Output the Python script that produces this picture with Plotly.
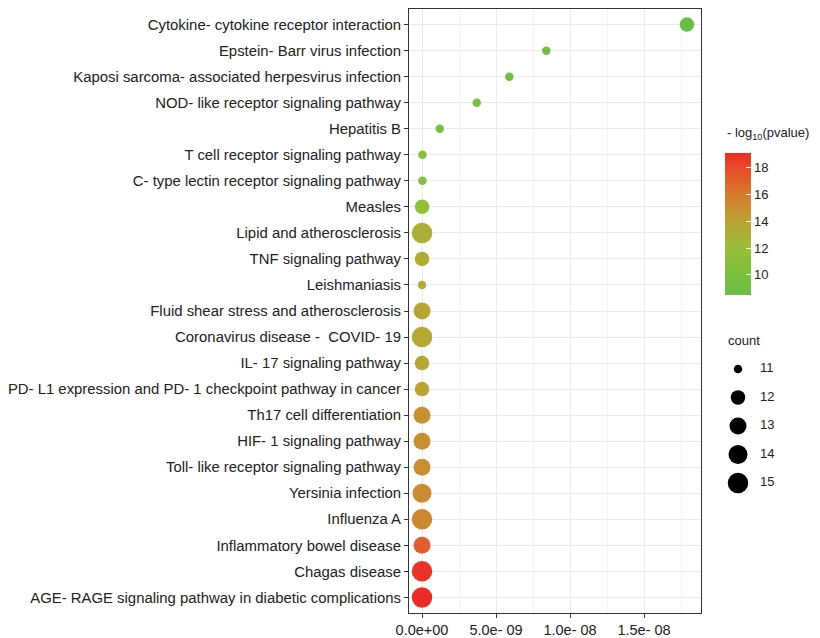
import plotly.graph_objects as go

# ---------------- data (top to bottom) ----------------
pathways = [
    "Cytokine- cytokine receptor interaction",
    "Epstein- Barr virus infection",
    "Kaposi sarcoma- associated herpesvirus infection",
    "NOD- like receptor signaling pathway",
    "Hepatitis B",
    "T cell receptor signaling pathway",
    "C- type lectin receptor signaling pathway",
    "Measles",
    "Lipid and atherosclerosis",
    "TNF signaling pathway",
    "Leishmaniasis",
    "Fluid shear stress and atherosclerosis",
    "Coronavirus disease -  COVID- 19",
    "IL- 17 signaling pathway",
    "PD- L1 expression and PD- 1 checkpoint pathway in cancer",
    "Th17 cell differentiation",
    "HIF- 1 signaling pathway",
    "Toll- like receptor signaling pathway",
    "Yersinia infection",
    "Influenza A",
    "Inflammatory bowel disease",
    "Chagas disease",
    "AGE- RAGE signaling pathway in diabetic complications",
]
x_values = [1.79e-8, 8.4e-9, 5.9e-9, 3.7e-9, 1.2e-9, 3.0e-11, 2.8e-11, 3.5e-12,
            1.2e-13, 9.0e-14, 8.0e-14, 6.0e-14, 7.0e-14, 5.5e-14, 4.5e-14,
            3.0e-15, 2.8e-15, 2.6e-15, 2.2e-15, 1.8e-15, 2.0e-17, 4.0e-19, 2.5e-19]
neg_log10_p = [8.5, 8.9, 9.1, 9.3, 9.9, 10.8, 10.8, 11.7, 13.1, 13.3, 13.5, 13.7,
               13.6, 13.7, 13.8, 14.9, 15.0, 15.0, 15.1, 15.3, 17.2, 18.9, 19.1]
counts = [12, 11, 11, 11, 11, 11, 11, 12, 15, 12, 11, 13, 15, 12, 12, 13, 13, 13,
          14, 15, 13, 15, 15]

x_tickvals = [0, 5e-9, 1e-8, 1.5e-8]
x_ticktext = ["0.0e+00", "5.0e- 09", "1.0e- 08", "1.5e- 08"]
color_ticks = [10, 12, 14, 16, 18]
legend_counts = [11, 12, 13, 14, 15]

CMIN, CMAX = 8.5, 19.1
CNT_MIN, CNT_MAX = 11, 15


def dot_size(c):
    # area-style size scale (like ggplot scale_size)
    return 8.5 + 12.0 * ((c - CNT_MIN) / (CNT_MAX - CNT_MIN)) ** 0.5


colorscale = [
    [0.00, "rgb(106,190,70)"],
    [0.15, "rgb(122,192,62)"],
    [0.33, "rgb(152,190,56)"],
    [0.52, "rgb(188,162,50)"],
    [0.71, "rgb(214,122,46)"],
    [0.90, "rgb(232,74,40)"],
    [1.00, "rgb(234,44,40)"],
]

FONT = "Arial, Liberation Sans, sans-serif"
# page body has an 8px margin, so the figure is 8px smaller than the window
W, H = 812, 630
ML, MR, MT = 401, 0, 1
PANEL_BOTTOM = 605
MB = H - PANEL_BOTTOM
PW = W - ML - MR
PH = H - MT - MB
panel_right = 693


def py(pix):  # figure pixel y -> paper fraction
    return (MT + PH - pix) / PH


def px(pix):  # figure pixel x -> paper fraction
    return (pix - ML) / PW


fig = go.Figure()

fig.add_trace(go.Scatter(
    x=x_values, y=pathways, mode="markers",
    marker=dict(
        size=[dot_size(c) for c in counts],
        color=neg_log10_p, cmin=CMIN, cmax=CMAX, colorscale=colorscale,
        line=dict(width=0), opacity=1,
        showscale=True,
        colorbar=dict(
            x=px(717), xanchor="left", xpad=0,
            y=py(216), yanchor="middle", ypad=0,
            len=142, lenmode="pixels", thickness=26, thicknessmode="pixels",
            outlinewidth=0, tickvals=color_ticks, ticks="inside",
            tickcolor="white", ticklen=5, tickwidth=1,
            tickfont=dict(family=FONT, size=13, color="#222"),
            title=dict(text=""),
        ),
    ),
    showlegend=False, hoverinfo="x+y",
))

# size legend (count)
X2_DOM = [0.75, 1.0]
x2_start = ML + X2_DOM[0] * PW
x2_w = (X2_DOM[1] - X2_DOM[0]) * PW
fig.add_trace(go.Scatter(
    x=[(730 - x2_start) / x2_w] * len(legend_counts), y=legend_counts, mode="markers",
    marker=dict(size=[dot_size(c) for c in legend_counts], color="black",
                line=dict(width=0), opacity=1),
    xaxis="x2", yaxis="y2", showlegend=False, hoverinfo="skip",
))
fig.add_trace(go.Scatter(
    x=[(752 - x2_start) / x2_w] * len(legend_counts), y=legend_counts, mode="text",
    text=[str(c) for c in legend_counts], textposition="middle right",
    textfont=dict(family=FONT, size=13, color="#222"),
    xaxis="x2", yaxis="y2", showlegend=False, hoverinfo="skip",
))

LEG_Y11, LEG_STEP = 361, 28.5

fig.update_layout(
    width=W, height=H,
    margin=dict(l=ML, r=MR, t=MT, b=MB),
    paper_bgcolor="white", plot_bgcolor="white",
    font=dict(family=FONT, size=14, color="#222"),
    xaxis=dict(
        domain=[0, px(panel_right)],
        range=[-0.88e-9, 1.885e-8],
        tickvals=x_tickvals, ticktext=x_ticktext,
        showgrid=True, gridcolor="#EBEBEB", gridwidth=1.2,
        minor=dict(dtick=2.5e-9, tick0=0, showgrid=True, gridcolor="#F3F3F3", gridwidth=0.8),
        ticks="outside", ticklen=4, tickcolor="#333", tickwidth=1,
        showline=True, linecolor="#333", linewidth=1, mirror=True,
        zeroline=False, tickfont=dict(family=FONT, size=14.5, color="#222"),
    ),
    yaxis=dict(
        type="category", categoryorder="array", categoryarray=pathways,
        range=[len(pathways) - 1 + 0.6, -0.6],
        showgrid=True, gridcolor="#EBEBEB", gridwidth=1.2,
        ticks="outside", ticklen=4, tickcolor="#333", tickwidth=1,
        showline=True, linecolor="#333", linewidth=1, mirror=True,
        zeroline=False, tickfont=dict(family=FONT, size=14.9, color="#222"),
    ),
    xaxis2=dict(domain=X2_DOM, range=[0, 1], anchor="y2", visible=False),
    yaxis2=dict(domain=[0, 1],
                range=[11 + (PANEL_BOTTOM - LEG_Y11) / LEG_STEP, 11 - (LEG_Y11 - MT) / LEG_STEP],
                anchor="x2", visible=False),
    annotations=[
        dict(text="- log<sub>10</sub>(pvalue)", x=px(717), y=py(125),
             xref="paper", yref="paper", xanchor="left", yanchor="middle", showarrow=False,
             font=dict(family=FONT, size=13, color="#222")),
        dict(text="count", x=px(718), y=py(332),
             xref="paper", yref="paper", xanchor="left", yanchor="middle", showarrow=False,
             font=dict(family=FONT, size=13, color="#222")),
    ],
)

fig.write_html("out.html")
